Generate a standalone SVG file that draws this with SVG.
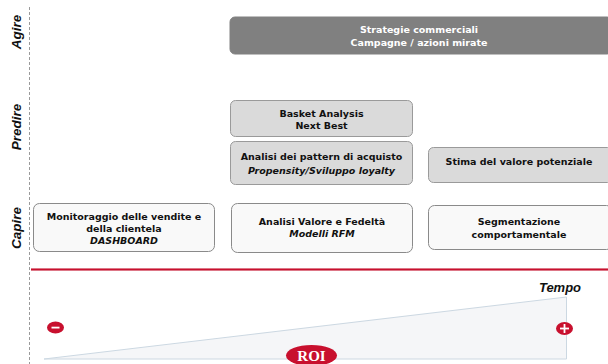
<svg xmlns="http://www.w3.org/2000/svg" width="608" height="364" viewBox="0 0 608 364">
  <style>
    .axis { font-family: "Liberation Sans", Arial, sans-serif; font-weight: bold; font-style: italic; font-size: 13.5px; fill: #111; }
    .lbl { font-family: "DejaVu Sans", Verdana, sans-serif; font-weight: bold; font-size: 9.5px; fill: #111; text-anchor: middle; }
    .lbl .it { font-style: italic; }
    .dark rect { fill: #808080; stroke: #808080; }
    .dark text { fill: #ffffff; }
    .mid rect { fill: #dadada; stroke: #9a9a9a; stroke-width: 1; }
    .light rect { fill: #f9f9f9; stroke: #8a8a8a; stroke-width: 1; }
  </style>

  <!-- vertical axis -->
  <line x1="29.5" y1="7" x2="29.5" y2="364" stroke="#9a9a9a" stroke-width="1" stroke-dasharray="3,2"/>
  <text class="axis" transform="translate(21,32) rotate(-90)" text-anchor="middle">Agire</text>
  <text class="axis" transform="translate(21,127) rotate(-90)" text-anchor="middle">Predire</text>
  <text class="axis" transform="translate(21,228) rotate(-90)" text-anchor="middle">Capire</text>

  <!-- Agire -->
  <g id="strategie" class="dark">
    <rect x="230" y="17" width="382" height="37" rx="5"/>
    <text class="lbl" x="419" y="32.5">Strategie commerciali</text>
    <text class="lbl" x="419" y="46">Campagne / azioni mirate</text>
  </g>

  <!-- Predire -->
  <g id="basket" class="mid">
    <rect x="230.5" y="100.5" width="182" height="36" rx="5"/>
    <text class="lbl" x="321.5" y="117">Basket Analysis</text>
    <text class="lbl" x="321.5" y="129">Next Best</text>
  </g>
  <g id="pattern" class="mid">
    <rect x="230.5" y="141.5" width="182" height="43" rx="5"/>
    <text class="lbl" x="321.5" y="160">Analisi dei pattern di acquisto</text>
    <text class="lbl" x="321.5" y="174"><tspan class="it">Propensity/Sviluppo loyalty</tspan></text>
  </g>
  <g id="stima" class="mid">
    <rect x="428.5" y="147.5" width="184" height="35" rx="5"/>
    <text class="lbl" x="519" y="164.5">Stima del valore potenziale</text>
  </g>

  <!-- Capire -->
  <g id="monitoraggio" class="light">
    <rect x="33.5" y="203.5" width="181" height="48" rx="6"/>
    <text class="lbl" x="124" y="220">Monitoraggio delle vendite e</text>
    <text class="lbl" x="124" y="231.5">della clientela</text>
    <text class="lbl" x="124" y="244"><tspan class="it">DASHBOARD</tspan></text>
  </g>
  <g id="rfm" class="light">
    <rect x="231.5" y="203.5" width="181" height="49" rx="6"/>
    <text class="lbl" x="322" y="224.5">Analisi Valore e Fedeltà</text>
    <text class="lbl" x="322" y="237"><tspan class="it">Modelli RFM</tspan></text>
  </g>
  <g id="segmentazione" class="light">
    <rect x="428.5" y="205.5" width="184" height="44" rx="6"/>
    <text class="lbl" x="519" y="225">Segmentazione</text>
    <text class="lbl" x="519" y="237.5">comportamentale</text>
  </g>

  <!-- separator -->
  <line x1="31" y1="269.5" x2="608" y2="269.5" stroke="#e49aa6" stroke-width="3"/>
  <line x1="31" y1="269.5" x2="608" y2="269.5" stroke="#c8102e" stroke-width="1.5"/>

  <!-- ROI over time -->
  <g id="roi">
    <polygon points="44,359 566.5,297 566.5,359" fill="#f5f6f8" stroke="#ccd8e2" stroke-width="1"/>
    <text x="560" y="291.5" text-anchor="middle" font-family="Liberation Sans, Arial, sans-serif" font-weight="bold" font-style="italic" font-size="13px" fill="#111">Tempo</text>
    <ellipse cx="55.5" cy="327.5" rx="8.5" ry="6" fill="#c8102e"/>
    <rect x="51.5" y="326.7" width="8" height="1.8" fill="#fff"/>
    <ellipse cx="564.5" cy="328.5" rx="8.5" ry="6.5" fill="#c8102e"/>
    <rect x="560" y="327.6" width="9" height="1.8" fill="#fff"/>
    <rect x="563.6" y="324" width="1.8" height="9" fill="#fff"/>
    <ellipse cx="311.5" cy="355.5" rx="25.5" ry="10.5" fill="#c8102e"/>
    <text x="311.5" y="361" text-anchor="middle" font-family="Liberation Serif, Times New Roman, serif" font-weight="bold" font-size="15px" fill="#fff">ROI</text>
  </g>
</svg>
